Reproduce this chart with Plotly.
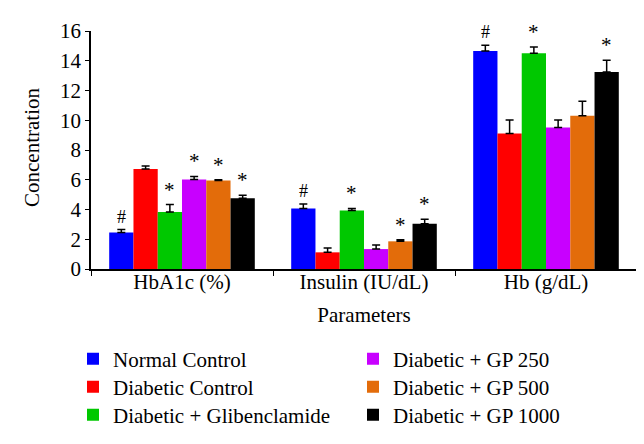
import plotly.graph_objects as go

categories = ["HbA1c (%)", "Insulin (IU/dL)", "Hb (g/dL)"]
groups = ["Normal Control", "Diabetic Control", "Diabetic + Glibenclamide",
          "Diabetic + GP 250", "Diabetic + GP 500", "Diabetic + GP 1000"]
colors = ["#0000ff", "#ff0000", "#00c800", "#c800ff", "#e36c0a", "#000000"]

normal_control = [2.45, 4.07, 14.65]
diabetic_control = [6.72, 1.12, 9.11]
glibenclamide = [3.83, 3.94, 14.50]
gp_250 = [6.02, 1.34, 9.51]
gp_500 = [5.95, 1.86, 10.31]
gp_1000 = [4.75, 3.04, 13.24]

normal_err = [0.2, 0.3, 0.4]
diabetic_err = [0.2, 0.3, 0.9]
glib_err = [0.5, 0.13, 0.42]
gp250_err = [0.2, 0.27, 0.5]
gp500_err = [0.05, 0.1, 0.96]
gp1000_err = [0.2, 0.3, 0.8]

normal_sig = ["#", "#", "#"]
diabetic_sig = ["", "", ""]
glib_sig = ["*", "*", "*"]
gp250_sig = ["*", "", ""]
gp500_sig = ["*", "*", ""]
gp1000_sig = ["*", "*", "*"]

values = [normal_control, diabetic_control, glibenclamide, gp_250, gp_500, gp_1000]
errors = [normal_err, diabetic_err, glib_err, gp250_err, gp500_err, gp1000_err]
sigs = [normal_sig, diabetic_sig, glib_sig, gp250_sig, gp500_sig, gp1000_sig]

FONT = "Liberation Serif, DejaVu Serif, serif"
FS = 21
L, R, T, B = 83, 15, 23, 183
W, H = 644, 444
PW, PH = W - L - R, H - T - B

# legend layout: two columns of three rows
legend_cols_x = [65, 345]
legend_rows_y = [351, 379, 407]

fig = go.Figure()
legend_names = ["legend", "legend2", "legend3", "legend4", "legend5", "legend6"]
for i, g in enumerate(groups):
    fig.add_trace(go.Bar(
        name=g, x=categories, y=values[i],
        marker=dict(color=colors[i], line=dict(width=0)),
        error_y=dict(type="data", array=errors[i], arrayminus=[0] * 3, symmetric=False,
                     color="black", thickness=1.5, width=4),
        legend=legend_names[i], showlegend=True,
    ))

n = len(groups)
group_w = 0.8
bw = group_w / n
annotations = []
for i in range(n):
    for j, c in enumerate(categories):
        s = sigs[i][j]
        if not s:
            continue
        xc = j - group_w / 2 + (i + 0.5) * bw
        annotations.append(dict(
            x=xc, y=values[i][j] + errors[i][j], xref="x", yref="y",
            text=s, showarrow=False, yanchor="bottom", yshift=1,
            font=dict(family=FONT, size=21 if s == "*" else 18, color="black"),
        ))

annotations.append(dict(
    xref="x domain", yref="y domain", x=(24 - L) / PW, y=1 - (140 - T) / PH,
    xanchor="center", yanchor="middle", text="Concentration", textangle=-90,
    showarrow=False, font=dict(family=FONT, size=FS, color="black"),
))

legend_common = dict(
    font=dict(family=FONT, size=FS, color="black"),
    orientation="v", bgcolor="rgba(0,0,0,0)", xref="container", yref="container",
    xanchor="left", yanchor="middle", itemwidth=30, visible=True,
)
legend_layout = {}
for i, name in enumerate(legend_names):
    col, row = divmod(i, 3)
    legend_layout[name] = dict(x=legend_cols_x[col] / W, y=1 - legend_rows_y[row] / H, **legend_common)

fig.update_layout(
    width=W, height=H, showlegend=True,
    margin=dict(l=L, r=R, t=T, b=B, autoexpand=False),
    paper_bgcolor="white", plot_bgcolor="white",
    barmode="group", bargap=0.2, bargroupgap=0,
    font=dict(family=FONT, size=FS, color="black"),
    annotations=annotations,
    xaxis=dict(
        type="category", showline=True, linecolor="black", linewidth=1.5,
        ticks="outside", tickson="boundaries", ticklen=5, tickcolor="black",
        title=dict(text="Parameters", font=dict(family=FONT, size=FS), standoff=14),
        tickfont=dict(family=FONT, size=FS), tickangle=0, ticklabelstandoff=-7,
        showgrid=False, automargin=False,
    ),
    yaxis=dict(
        range=[0, 16], dtick=2, showline=True, linecolor="black", linewidth=1.5,
        ticks="outside", ticklen=4, tickcolor="black", showgrid=False,
        zeroline=False, automargin=False,
        tickfont=dict(family=FONT, size=FS),
    ),
    **legend_layout,
)

fig.write_html("out.html")
